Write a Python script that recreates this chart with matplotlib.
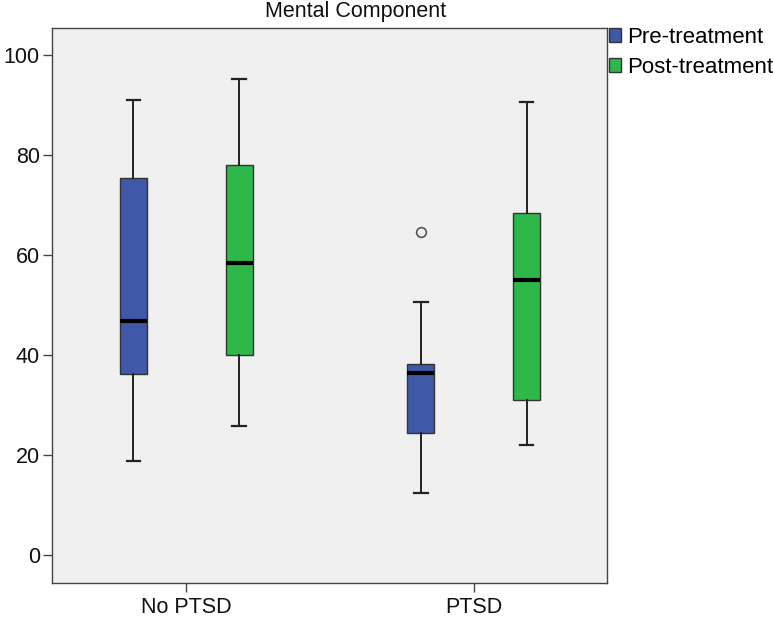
import matplotlib
matplotlib.use("Agg")
import matplotlib.pyplot as plt
from matplotlib.patches import Patch

plt.rcParams["font.family"] = ["Liberation Sans", "DejaVu Sans"]

groups = ["No PTSD", "PTSD"]
series = ["Pre-treatment", "Post-treatment"]
colors = ["#3f58a8", "#2fb84a"]

# per series: [No PTSD, PTSD]
whislo = {"Pre-treatment": [18.8, 12.5], "Post-treatment": [25.8, 22.0]}
q1 = {"Pre-treatment": [36.2, 24.5], "Post-treatment": [40.0, 31.0]}
med = {"Pre-treatment": [46.8, 36.5], "Post-treatment": [58.5, 55.0]}
q3 = {"Pre-treatment": [75.4, 38.2], "Post-treatment": [78.0, 68.4]}
whishi = {"Pre-treatment": [91.0, 50.6], "Post-treatment": [95.2, 90.7]}
fliers = {"Pre-treatment": [[], [64.6]], "Post-treatment": [[], []]}

fig = plt.figure(figsize=(7.73, 6.2), dpi=100)
ax = fig.add_axes([0.0677, 0.0597, 0.718, 0.8955])
ax.set_facecolor("#f0f0f0")

offset = 0.184
for s_idx, s in enumerate(series):
    stats = []
    for g_idx in range(len(groups)):
        stats.append({
            "whislo": whislo[s][g_idx],
            "q1": q1[s][g_idx],
            "med": med[s][g_idx],
            "q3": q3[s][g_idx],
            "whishi": whishi[s][g_idx],
            "fliers": fliers[s][g_idx],
        })
    pos = [g + (offset if s_idx else -offset) for g in range(len(groups))]
    ax.bxp(
        stats,
        positions=pos,
        widths=0.095,
        patch_artist=True,
        showcaps=True,
        boxprops=dict(facecolor=colors[s_idx], edgecolor="#333333", linewidth=1.0),
        medianprops=dict(color="black", linewidth=3),
        whiskerprops=dict(color="#222222", linewidth=1.4),
        capprops=dict(color="#222222", linewidth=1.6),
        capwidths=0.047,
        flierprops=dict(marker="o", markersize=7, markerfacecolor="none",
                        markeredgecolor="#555555", markeredgewidth=1.2),
        manage_ticks=False,
    )

ax.set_xlim(-0.466, 1.465)
ax.set_ylim(-5.5, 105.5)
ax.set_xticks(range(len(groups)))
ax.set_xticklabels(groups)
ax.set_yticks([0, 20, 40, 60, 80, 100])

for sp in ax.spines.values():
    sp.set_color("#444444")
    sp.set_linewidth(1.0)
ax.tick_params(axis="both", direction="out", length=6.5, width=1.0,
               color="#444444", labelsize=15.5, labelcolor="#111111")
ax.tick_params(axis="y", pad=2.5)

fig.text(356 / 773, 1 - 11 / 620, "Mental Component", ha="center", va="center",
         fontsize=15.5, color="#111111")

handles = [Patch(facecolor=c, edgecolor="#333333", linewidth=1.0) for c in colors]
fig.legend(handles, series, loc="upper left", bbox_to_anchor=(609 / 773, 1 - 27 / 620),
           frameon=False, fontsize=16, handlelength=0.55, handleheight=0.55,
           handletextpad=0.25, borderpad=0, borderaxespad=0, labelspacing=0.4)

fig.savefig("out.png", dpi=100)
